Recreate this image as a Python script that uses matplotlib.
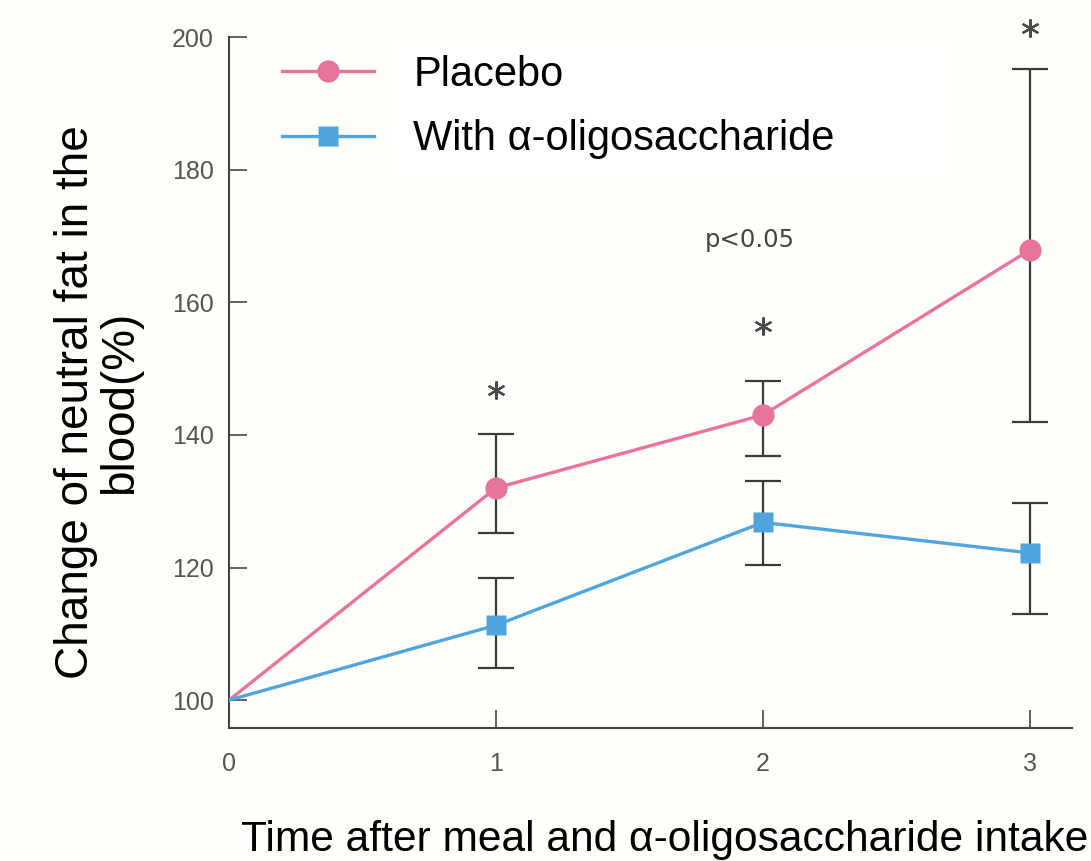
import numpy as np
import matplotlib
matplotlib.use('Agg')
import matplotlib.pyplot as plt
from matplotlib.patches import Rectangle

plt.rcParams['font.family'] = ['Liberation Sans', 'DejaVu Sans']

# time points and group means with error bars
hours = [0, 1, 2, 3]
placebo = [100, 132.0, 143.0, 167.9]
placebo_hi = [0, 8.2, 5.2, 27.3]
placebo_lo = [0, 6.8, 6.2, 26.0]
oligo = [100, 111.3, 126.8, 122.2]
oligo_hi = [0, 7.1, 6.2, 7.5]
oligo_lo = [0, 6.5, 6.4, 9.2]
star_x = [1, 2, 3]
star_y = [146.8, 156.4, 201.3]
yticks = [100, 120, 140, 160, 180, 200]
xticks = [0, 1, 2, 3]

pink = '#e8739c'
blue = '#4fa6de'
bar_col = '#3a3a3a'

fig = plt.figure(figsize=(10.91, 8.61), dpi=100)
fig.patch.set_facecolor('#fefefa')
ax = fig.add_axes([229 / 1091, 1 - 728 / 861, (1072 - 229) / 1091, (728 - 37) / 861])
ax.set_facecolor('#fefefa')

# error bars first so the markers sit on top
ax.errorbar(hours[1:], placebo[1:], yerr=[placebo_lo[1:], placebo_hi[1:]], fmt='none',
            ecolor=bar_col, elinewidth=1.6, capsize=13, capthick=1.6, zorder=2)
ax.errorbar(hours[1:], oligo[1:], yerr=[oligo_lo[1:], oligo_hi[1:]], fmt='none',
            ecolor=bar_col, elinewidth=1.6, capsize=13, capthick=1.6, zorder=2)

ax.plot(hours, placebo, color=pink, lw=2.4, zorder=3)
ax.plot(hours[1:], placebo[1:], 'o', color=pink, ms=16, mec='none', zorder=4)
ax.plot(hours, oligo, color=blue, lw=2.4, zorder=3)
ax.plot(hours[1:], oligo[1:], 's', color=blue, ms=15, mec='none', zorder=4)

# significance asterisks
ax.plot(star_x, star_y, ls='none', marker=(6, 2, 0), ms=13, mew=1.6, color='#4a4a4a',
        clip_on=False, zorder=4)
ax.text(1.95, 169.4, 'p<0.05', ha='center', va='center', fontsize=17.5,
        family='DejaVu Sans', color='#444444')

ax.set_xlim(0, (1072 - 229) / 267)
ax.set_ylim(95.8, 200)
ax.set_xticks(xticks)
ax.set_yticks(yticks)
ax.tick_params(direction='in', length=13, width=1.3, colors='#555555', labelsize=18)
ax.tick_params(axis='x', pad=17)
ax.tick_params(axis='y', pad=11)
for side in ['top', 'right']:
    ax.spines[side].set_visible(False)
for side in ['left', 'bottom']:
    ax.spines[side].set_color('#444444')
    ax.spines[side].set_linewidth(1.5)

# white panel behind the legend labels
ax.add_patch(Rectangle((395 / 1091, 1 - 178 / 861), 555 / 1091, 136 / 861,
                       transform=fig.transFigure, facecolor='white',
                       edgecolor='none', zorder=4.5, clip_on=False))

h1, = ax.plot([], [], '-o', color=pink, lw=2.4, ms=16, mec='none')
h2, = ax.plot([], [], '-s', color=blue, lw=2.4, ms=15, mec='none')
leg = ax.legend([h1, h2], ['Placebo', 'With α-oligosaccharide'], loc='upper left',
                bbox_to_anchor=(282 / 1091, 1 - 55 / 861), bbox_transform=fig.transFigure,
                frameon=False, fontsize=30, handlelength=2.2, handletextpad=0.95,
                labelspacing=0.58, borderpad=0, borderaxespad=0)
leg.set_zorder(5)

fig.text(98 / 1091, 1 - 402 / 861, 'Change of neutral fat in the\nblood(%)',
         rotation=90, ha='center', va='center', multialignment='center',
         fontsize=33, linespacing=0.98)
fig.text(665 / 1091, 1 - 851 / 861, 'Time after meal and α-oligosaccharide intake',
         ha='center', va='baseline', fontsize=30.6)

fig.savefig('out.png', dpi=100, facecolor=fig.get_facecolor())
